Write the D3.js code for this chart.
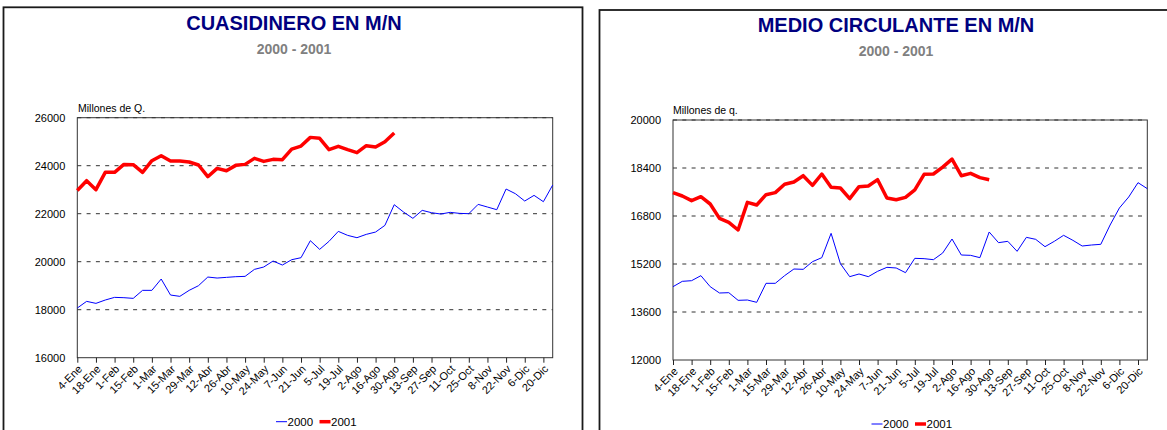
<!DOCTYPE html>
<html><head><meta charset="utf-8">
<script src="https://cdn.jsdelivr.net/npm/d3@7"></script>
<style>body{margin:0;background:#fff} svg{display:block;font-family:"Liberation Sans",Arial,sans-serif}</style>
</head><body><svg id="c" width="1167" height="430"></svg>
<script>
const tickLabels = ["4-Ene","18-Ene","1-Feb","15-Feb","1-Mar","15-Mar","29-Mar","12-Abr","26-Abr","10-May","24-May","7-Jun","21-Jun","5-Jul","19-Jul","2-Ago","16-Ago","30-Ago","13-Sep","27-Sep","11-Oct","25-Oct","8-Nov","22-Nov","6-Dic","20-Dic"];
const seriesNames = ["2000","2001"];
const cuasi2000 = [18070,18347,18264,18403,18514,18500,18472,18806,18806,19278,18611,18556,18806,19000,19361,19319,19347,19375,19389,19680,19778,20028,19861,20083,20167,20875,20514,20847,21264,21097,21000,21139,21236,21514,22375,22069,21806,22139,22042,21986,22056,22014,22000,22389,22278,22167,23028,22833,22528,22764,22500,23194];
const cuasi2001 = [22970,23375,23000,23722,23722,24055,24042,23722,24208,24417,24194,24194,24153,24028,23542,23889,23792,24014,24055,24305,24180,24264,24250,24694,24819,25180,25139,24667,24806,24667,24542,24833,24778,25000,25361];
const medio2000 = [14444,14622,14644,14811,14444,14233,14244,13989,14000,13922,14556,14556,14811,15033,15022,15278,15411,16222,15211,14778,14867,14778,14956,15089,15067,14911,15389,15378,15344,15567,16033,15500,15489,15411,16267,15911,15956,15622,16089,16022,15778,15956,16156,15989,15800,15833,15856,16500,17067,17433,17911,17711];
const medio2001 = [17578,17467,17311,17444,17200,16722,16589,16333,17256,17167,17511,17578,17856,17933,18144,17822,18200,17756,17733,17378,17778,17800,18011,17400,17344,17422,17672,18190,18200,18430,18695,18144,18222,18078,18011];
const cuasiTicks = [16000,18000,20000,22000,24000,26000];
const medioTicks = [12000,13600,15200,16800,18400,20000];

const svg = d3.select("#c");
const colors = {"2000":"#0000ff","2001":"#ff0000"};
const widths = {"2000":1,"2001":3.5};

const panels = [
  {frame:{x:3.5,y:7.3,w:579,h:440}, title:"CUASIDINERO EN M/N", tx:294, ty:29.5, sy:53.5,
   unit:"Millones de Q.", ux:78, uy:111.5,
   plot:{x:77.3,y:117.7,w:475.4,h:240}, ticks:cuasiTicks, data:[cuasi2000,cuasi2001],
   legend:{x:276, y:421.7}},
  {frame:{x:599.5,y:10,w:600,h:440}, title:"MEDIO CIRCULANTE EN M/N", tx:896, ty:32, sy:56,
   unit:"Millones de q.", ux:673, uy:114,
   plot:{x:673,y:120,w:474.3,h:240}, ticks:medioTicks, data:[medio2000,medio2001],
   legend:{x:871.5, y:424}}
];

panels.forEach(p => {
  const g = svg.append("g");
  g.append("rect").attr("x",p.frame.x).attr("y",p.frame.y).attr("width",p.frame.w).attr("height",p.frame.h)
    .attr("fill","#fff").attr("stroke","#1a1a1a").attr("stroke-width",1.8);
  g.append("text").attr("x",p.tx).attr("y",p.ty).attr("text-anchor","middle")
    .attr("font-size",20).attr("font-weight","bold").attr("fill","#000080").text(p.title);
  g.append("text").attr("x",p.tx).attr("y",p.sy).attr("text-anchor","middle")
    .attr("font-size",14).attr("font-weight","bold").attr("fill","#808080").text("2000 - 2001");
  g.append("text").attr("x",p.ux).attr("y",p.uy).attr("font-size",10.5).attr("fill","#000").text(p.unit);

  const P = p.plot;
  const x = d3.scalePoint().domain(d3.range(52)).range([P.x, P.x+P.w]);
  const y = d3.scaleLinear().domain(d3.extent(p.ticks)).range([P.y+P.h, P.y]);

  // gridlines
  g.append("g").selectAll("line").data(p.ticks.slice(1)).join("line")
    .attr("x1",P.x).attr("x2",P.x+P.w).attr("y1",d=>y(d)).attr("y2",d=>y(d))
    .attr("stroke","#333").attr("stroke-width",1).attr("stroke-dasharray","4,5.3");
  // plot border
  g.append("rect").attr("x",P.x).attr("y",P.y).attr("width",P.w).attr("height",P.h)
    .attr("fill","none").attr("stroke","#333").attr("stroke-width",1);

  // y axis labels
  const ya = g.append("g").attr("transform",`translate(${P.x},0)`)
    .call(d3.axisLeft(y).tickValues(p.ticks).tickSize(0).tickPadding(12).tickFormat(d3.format("d")));
  ya.select(".domain").remove();
  ya.selectAll("text").attr("font-size",11).attr("font-family","Liberation Sans, Arial, sans-serif").attr("fill","#000");

  // x axis
  const xa = g.append("g").attr("transform",`translate(0,${P.y+P.h})`)
    .call(d3.axisBottom(x).tickValues(d3.range(0,52,2)).tickSize(5).tickSizeOuter(0)
      .tickFormat(i => tickLabels[i/2]));
  xa.select(".domain").remove();
  xa.selectAll("line").attr("stroke","#222");
  xa.selectAll("text").attr("font-size",11).attr("font-family","Liberation Sans, Arial, sans-serif").attr("fill","#000")
    .attr("x",0).attr("y",0).attr("dy",null)
    .attr("transform","translate(5,12) rotate(-45)").style("text-anchor","end");

  // lines
  const line = d3.line().x((d,i)=>x(i)).y(d=>y(d)).curve(d3.curveLinear);
  seriesNames.forEach((s,k) => {
    g.append("path").datum(p.data[k]).attr("d",line).attr("fill","none")
      .attr("stroke",colors[s]).attr("stroke-width",widths[s]).attr("stroke-linejoin","round");
  });

  // legend
  const L = p.legend;
  const lg = g.append("g").attr("transform",`translate(${L.x},${L.y})`);
  let off = 0;
  seriesNames.forEach(s => {
    lg.append("line").attr("x1",off).attr("x2",off+11).attr("y1",0).attr("y2",0)
      .attr("stroke",colors[s]).attr("stroke-width",widths[s]);
    lg.append("text").attr("x",off+11.5).attr("y",4.3).attr("font-size",11.5).attr("fill","#000").text(s);
    off += 43.5;
  });
});
</script></body></html>
